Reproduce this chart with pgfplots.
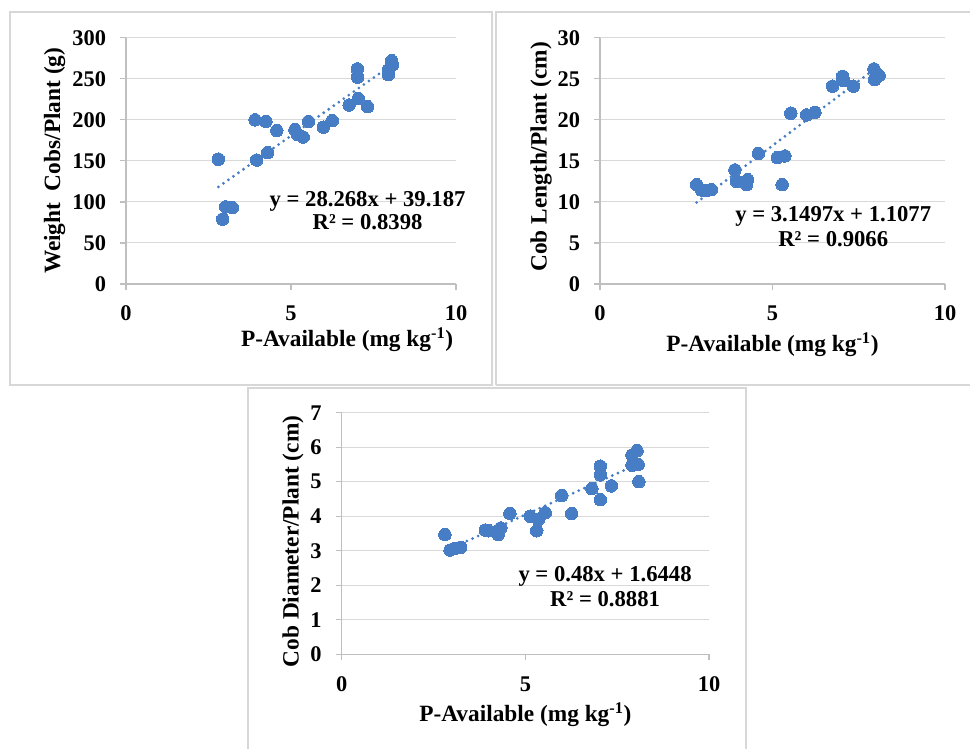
\documentclass[border=0pt]{standalone}
\usepackage{pgfplots}
\pgfplotsset{compat=1.18}
\usepackage{fontspec}
\setmainfont{Liberation Serif}
\definecolor{mk}{RGB}{70,125,196}
\definecolor{gridc}{RGB}{217,217,217}
\definecolor{axc}{RGB}{191,191,191}
\definecolor{framec}{RGB}{215,215,215}
\pgfplotsset{
  panel/.style={
    scale only axis, enlargelimits=false,
    xmin=0, xmax=10, ymin=0,
    axis lines*=left,
    axis line style={axc, line width=0.9pt},
    tick style={axc, line width=0.9pt},
    tick align=outside, major tick length=4.5pt,
    xtick={0,5,10},
    ymajorgrids, grid style={gridc, line width=0.8pt},
    /pgf/number format/assume math mode=true,
    ticklabel style={font=\fontsize{16.8}{18}\selectfont\bfseries},
    label style={font=\fontsize{17.5}{20}\selectfont\bfseries},
    xticklabel style={yshift=-8.5pt},
    yticklabel style={xshift=-7pt},
    clip=false,
  },
  pts/.style={only marks, mark=*, mark size=4.7pt, mark options={fill=mk, draw=mk, line width=0pt}},
  trend/.style={no marks, mk, line width=2.3pt, line cap=round, dash pattern=on 0pt off 4.6pt},
}
\newcommand{\eqfont}{\fontsize{17}{20}\selectfont\bfseries}
\begin{document}
\begin{tikzpicture}
\useasboundingbox (0,0) rectangle (727.5pt,561.75pt);
% frames
\draw[framec, line width=0.8pt] ({10*0.75pt},{(749-12)*0.75pt}) rectangle ({492*0.75pt},{(749-385)*0.75pt});
\draw[framec, line width=0.8pt] ({496*0.75pt},{(749-385)*0.75pt}) -- ({496*0.75pt},{(749-12)*0.75pt}) -- (727.5pt,{(749-12)*0.75pt});
\draw[framec, line width=0.8pt] ({496*0.75pt},{(749-385)*0.75pt}) -- (727.5pt,{(749-385)*0.75pt});
\draw[framec, line width=0.8pt] ({248*0.75pt},0pt) -- ({248*0.75pt},{(749-388)*0.75pt}) -- ({746*0.75pt},{(749-388)*0.75pt}) -- ({746*0.75pt},0pt);

% Panel 1
\begin{axis}[panel,
  at={({126*0.75pt},{(749-284)*0.75pt})}, anchor=south west,
  width=247.5pt, height=184.7pt,
  ymax=300, ytick={0,50,...,300},
  xlabel={P-Available (mg kg\textsuperscript{-1})},
  ylabel={Weight\ \ Cobs/Plant (g)},
  xlabel style={at={(axis description cs:0.67,-0.2558)}, anchor=base},
  ylabel style={at={(axis description cs:-0.2,0.5)}, anchor=base},
]
\addplot[trend] coordinates {(2.8,118.3) (8.1,268.2)};
\addplot[pts] coordinates {
(2.80,152) (2.93,79) (3.02,94) (3.22,93) (3.91,200) (3.96,151) (4.24,198) (4.29,160)
(4.57,187) (5.12,188) (5.20,182) (5.37,179) (5.53,198) (5.98,191) (6.25,199) (6.76,218)
(7.04,226) (7.01,262) (7.02,252) (7.32,216) (7.95,261) (7.95,255) (8.05,272) (8.08,267)};
\node[anchor=base, font=\eqfont] at (axis cs:7.32,93.9) {y = 28.268x + 39.187};
\node[anchor=base, font=\eqfont] at (axis cs:7.32,65.9) {R² = 0.8398};
\end{axis}

% Panel 2
\begin{axis}[panel,
  at={({600*0.75pt},{(749-284)*0.75pt})}, anchor=south west,
  width=258.75pt, height=184.7pt,
  ymax=30, ytick={0,5,...,30},
  xlabel={P-Available (mg kg\textsuperscript{-1})},
  ylabel={Cob Length/Plant (cm)},
  xlabel style={at={(axis description cs:0.5,-0.2749)}, anchor=base},
  ylabel style={at={(axis description cs:-0.155,0.516)}, anchor=base},
]
\addplot[trend] coordinates {(2.8,9.93) (8.1,26.62)};
\addplot[pts] coordinates {
(2.80,12.1) (2.94,11.45) (3.09,11.4) (3.23,11.5) (3.91,13.9) (3.96,12.5) (4.25,12.1) (4.28,12.7)
(4.59,15.9) (5.14,15.4) (5.36,15.6) (5.28,12.1) (5.53,20.8) (5.99,20.6) (6.23,20.9) (6.74,24.1)
(7.03,25.3) (7.05,24.8) (7.34,24.1) (7.94,26.2) (7.96,24.9) (8.0,25.4) (8.09,25.4)};
\node[anchor=base, font=\eqfont] at (axis cs:6.76,7.59) {y = 3.1497x + 1.1077};
\node[anchor=base, font=\eqfont] at (axis cs:6.76,4.54) {R² = 0.9066};
\end{axis}

% Panel 3
\begin{axis}[panel,
  at={({341.7*0.75pt},{(749-654.3)*0.75pt})}, anchor=south west,
  width=275.5pt, height=181.2pt,
  ymax=7, ytick={0,1,...,7},
  xlabel={P-Available (mg kg\textsuperscript{-1})},
  ylabel={Cob Diameter/Plant (cm)},
  xlabel style={at={(axis description cs:0.5,-0.279)}, anchor=base},
  ylabel style={at={(axis description cs:-0.117,0.467)}, anchor=base},
]
\addplot[trend] coordinates {(2.8,2.99) (8.1,5.53)};
\addplot[pts] coordinates {
(2.81,3.47) (2.95,3.02) (3.08,3.07) (3.24,3.1) (3.91,3.6) (4.0,3.58) (4.26,3.47) (4.33,3.66)
(4.58,4.08) (5.13,4.0) (5.31,3.58) (5.35,3.9) (5.54,4.1) (5.99,4.6) (6.26,4.08) (6.81,4.8)
(7.04,4.48) (7.04,5.45) (7.04,5.2) (7.34,4.88) (7.90,5.77) (7.90,5.48) (8.04,5.9) (8.07,5.5) (8.09,5.0)};
\node[anchor=base, font=\eqfont] at (axis cs:7.17,2.10) {y = 0.48x + 1.6448};
\node[anchor=base, font=\eqfont] at (axis cs:7.17,1.38) {R² = 0.8881};
\end{axis}
\end{tikzpicture}
\end{document}
